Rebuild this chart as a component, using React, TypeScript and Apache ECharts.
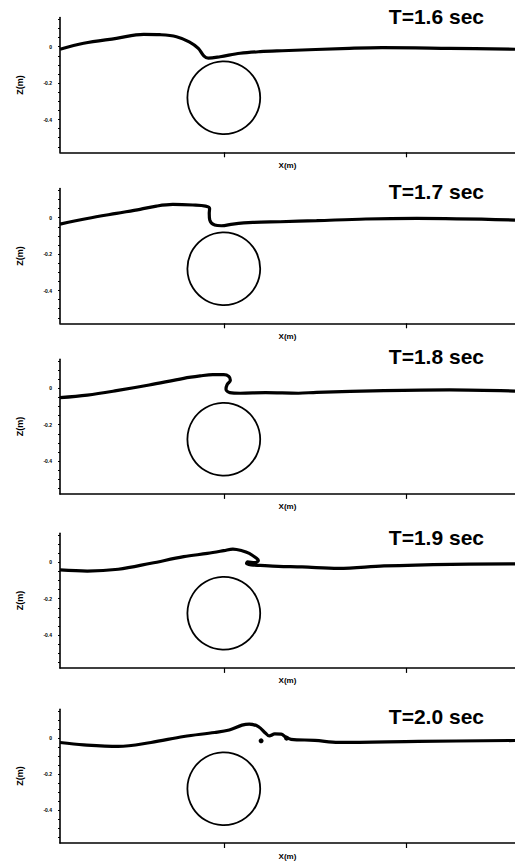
import React, { useEffect, useRef } from "react";
import * as echarts from "echarts";

// Panel titles
const panelTitles = ["T=1.6 sec", "T=1.7 sec", "T=1.8 sec", "T=1.9 sec", "T=2.0 sec"];

// Free-surface profiles [x (m), z (m)]
const wave16: number[][] = [
  [-0.9, -0.014], [-0.77, 0.019], [-0.59, 0.046], [-0.44, 0.068], [-0.35, 0.066],
  [-0.26, 0.055], [-0.19, 0.027], [-0.14, -0.009], [-0.11, -0.05], [-0.085, -0.063],
  [-0.02, -0.055], [0.09, -0.036], [0.2, -0.027], [0.32, -0.022], [0.69, -0.009],
  [0.87, -0.005], [1.24, -0.009], [1.6, -0.014],
];
const wave17: number[][] = [
  [-0.9, -0.035], [-0.75, -0.004], [-0.59, 0.024], [-0.46, 0.046], [-0.37, 0.064],
  [-0.28, 0.073], [-0.17, 0.07], [-0.1, 0.064], [-0.078, 0.05], [-0.08, 0.024],
  [-0.077, -0.013], [-0.05, -0.04], [-0.013, -0.044], [0.05, -0.035], [0.16, -0.026],
  [0.31, -0.022], [0.51, -0.016], [0.78, -0.007], [1.06, -0.004], [1.6, -0.013],
];
const wave18: number[][] = [
  [-0.9, -0.051], [-0.75, -0.037], [-0.59, -0.013], [-0.41, 0.018], [-0.22, 0.055],
  [-0.13, 0.068], [-0.06, 0.075], [0.0, 0.075], [0.028, 0.065], [0.036, 0.044],
  [0.018, 0.02], [0.012, -0.005], [0.033, -0.024], [0.09, -0.027], [0.23, -0.024],
  [0.41, -0.027], [0.51, -0.022], [0.88, -0.013], [1.24, -0.009], [1.6, -0.015],
];
const wave19: number[][] = [
  [-0.9, -0.042], [-0.75, -0.048], [-0.58, -0.038], [-0.4, -0.005], [-0.22, 0.031],
  [-0.09, 0.049], [0.0, 0.064], [0.05, 0.073], [0.1, 0.064], [0.14, 0.049],
  [0.18, 0.022], [0.19, 0.01], [0.17, -0.002], [0.13, 0.002], [0.125, -0.006],
  [0.15, -0.014], [0.2, -0.017], [0.3, -0.022], [0.43, -0.025], [0.63, -0.033],
  [0.88, -0.02], [1.25, -0.011], [1.6, -0.009],
];
const wave20: number[][] = [
  [-0.9, -0.024], [-0.77, -0.037], [-0.58, -0.046], [-0.4, -0.024], [-0.22, 0.009],
  [-0.05, 0.031], [0.03, 0.045], [0.1, 0.072], [0.14, 0.078], [0.19, 0.064],
  [0.23, 0.027], [0.25, 0.012], [0.28, 0.023], [0.315, 0.022], [0.34, 0.006],
  [0.37, -0.007], [0.5, -0.012], [0.63, -0.024], [1.07, -0.018], [1.6, -0.013],
];
const waves = [wave16, wave17, wave18, wave19, wave20];

// Spray / droplets at T=2.0 sec
const droplets20: number[][] = [[0.205, -0.015], [0.345, 0.0]];

// Submerged cylinder: [center x, center z, radius]
const cylinder: number[][] = [[0, -0.28, 0.2]];

// Axis ticks
const yLabelTicks = [0, -0.2, -0.4];
const yMinorTicks = [0.15, 0.1, 0.05, 0, -0.05, -0.1, -0.15, -0.2, -0.25, -0.3, -0.35, -0.4, -0.45, -0.5, -0.55];
const xTicks = [0, 1];

const X_MIN = -0.9;
const X_MAX = 1.6;
const Z_MIN = -0.58;
const Z_MAX = 0.16;

export default function App() {
  const ref = useRef<HTMLDivElement>(null);

  useEffect(() => {
    if (!ref.current) return;
    const chart = echarts.init(ref.current, null, { renderer: "svg" });

    const gridTops = [17.6, 188.6, 359.2, 533.2, 709.2];
    const titleCenters = [17.7, 192.2, 357.5, 538, 717];
    const gridLeft = 60;
    const gridWidth = 455;
    const gridHeight = 134.7;
    const titleSize = 21;

    const grids: any[] = [];
    const xAxes: any[] = [];
    const yAxes: any[] = [];
    const series: any[] = [];
    const titles: any[] = [];

    waves.forEach((wave, i) => {
      grids.push({ left: gridLeft, top: gridTops[i], width: gridWidth, height: gridHeight });
      xAxes.push({
        type: "value",
        gridIndex: i,
        min: X_MIN,
        max: X_MAX,
        name: "X(m)",
        nameLocation: "middle",
        nameGap: 9,
        nameTextStyle: { fontFamily: "Liberation Sans", fontWeight: "bold", fontSize: 8, color: "#000" },
        axisLine: { onZero: false, lineStyle: { color: "#000", width: 1.6 } },
        axisTick: { show: true, customValues: xTicks, length: 5, lineStyle: { color: "#000", width: 1.2 } },
        axisLabel: { show: false },
        splitLine: { show: false },
      });
      yAxes.push({
        type: "value",
        gridIndex: i,
        min: Z_MIN,
        max: Z_MAX,
        name: "Z(m)",
        nameLocation: "middle",
        nameGap: 36,
        nameTextStyle: { fontFamily: "Liberation Sans", fontWeight: "bold", fontSize: 9, color: "#000" },
        axisLine: { onZero: false, lineStyle: { color: "#000", width: 1.6 } },
        axisTick: { show: true, customValues: yMinorTicks, length: 2, lineStyle: { color: "#000", width: 1 } },
        axisLabel: {
          show: true,
          customValues: yLabelTicks,
          fontSize: 5,
          fontWeight: "bold",
          color: "#000",
          margin: 8,
          fontFamily: "Liberation Sans",
        },
        splitLine: { show: false },
      });
      series.push({
        type: "custom",
        xAxisIndex: i,
        yAxisIndex: i,
        data: cylinder,
        renderItem: (params: any, api: any) => {
          const c = api.coord([api.value(0), api.value(1)]);
          const r = api.size([api.value(2), 0])[0];
          return {
            type: "circle",
            shape: { cx: c[0], cy: c[1], r },
            style: { fill: "none", stroke: "#000", lineWidth: 1.8 },
          };
        },
        silent: true,
      });
      series.push({
        type: "line",
        xAxisIndex: i,
        yAxisIndex: i,
        data: wave,
        smooth: 0.35,
        showSymbol: false,
        symbol: "none",
        lineStyle: { color: "#000", width: 3.2 },
        silent: true,
      });
      titles.push({
        text: panelTitles[i],
        right: 31,
        top: titleCenters[i] - titleSize / 2 - 1,
        padding: 0,
        textStyle: { fontFamily: "Liberation Sans", fontWeight: "bold", fontSize: titleSize, color: "#000" },
      });
    });

    series.push({
      type: "scatter",
      xAxisIndex: 4,
      yAxisIndex: 4,
      data: droplets20,
      symbol: "circle",
      symbolSize: 5,
      itemStyle: { color: "#000", opacity: 1 },
      silent: true,
    });

    chart.setOption({
      animation: false,
      backgroundColor: "#fff",
      title: titles,
      grid: grids,
      xAxis: xAxes,
      yAxis: yAxes,
      series,
    });

    return () => chart.dispose();
  }, []);

  return (
    <div
      ref={ref}
      style={{ position: "absolute", left: 0, top: 0, width: 515, height: 861 }}
    />
  );
}
